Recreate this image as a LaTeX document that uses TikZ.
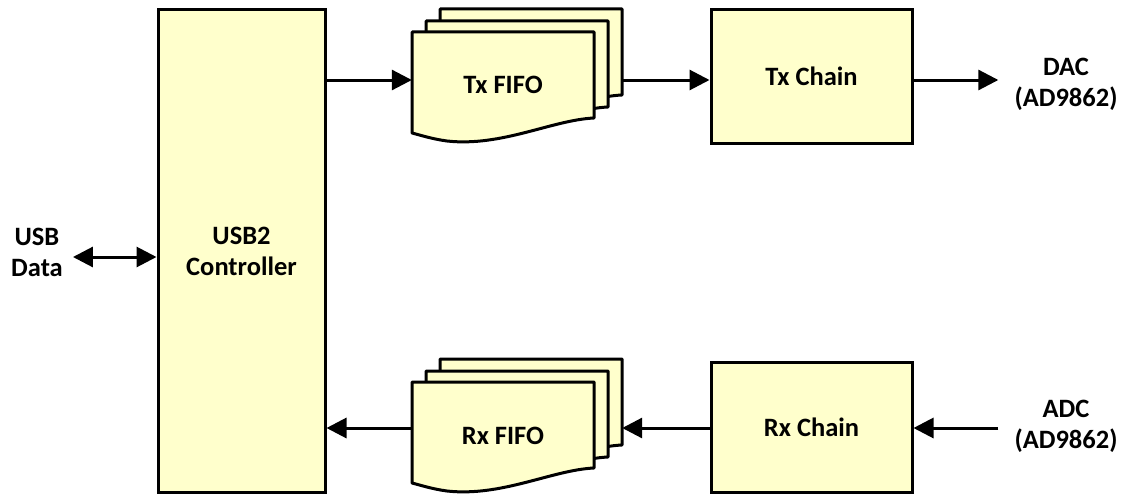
\documentclass[tikz,border=0pt]{standalone}
\usepackage{fontspec}
\setmainfont{Carlito}
\usetikzlibrary{arrows.meta,calc}
\definecolor{boxfill}{RGB}{255,255,204}
\begin{document}
\begin{tikzpicture}[x=1pt,y=-1pt,
  txt/.style={font=\bfseries\fontsize{26.5}{31}\selectfont, align=center},
  blk/.style={txt, draw=black, line width=3pt, fill=boxfill, inner sep=0pt},
  ghost/.style={txt, draw=none, inner sep=0pt},
  lbl/.style={txt, inner sep=0pt},
  conn/.style={line width=3pt, -{Triangle[length=20pt,width=20pt]}},
  dconn/.style={line width=3pt, {Triangle[length=20pt,width=20pt]}-{Triangle[length=20pt,width=20pt]}},
  docpage/.style={draw=black, line width=3pt, fill=boxfill, line join=round},
  fifostack/.pic={
    \foreach \dx/\dy in {28/-23,14/-11,0/0}{
      \draw[docpage] (\dx,\dy) -- ++(182,0) -- ++(0,86)
        .. controls ++(-42,2) and ++(55,6) .. ++(-147,23)
        .. controls ++(-15,-2) and ++(8,2) .. ++(-35,-8) -- cycle;
    }
  }]
\useasboundingbox (0,0) rectangle (1123,495);

% main blocks
\node[blk, minimum width=167pt, minimum height=482pt] (ctrl) at (241.5,251) {USB2\\Controller};
\node[blk, minimum width=201pt, minimum height=133pt] (txchain) at (811.5,76.5) {Tx Chain};
\node[blk, minimum width=201pt, minimum height=130pt] (rxchain) at (811.5,427) {Rx Chain};

% FIFO stacks
\pic at (412,32) {fifostack};
\pic at (412,382) {fifostack};
\node[ghost, minimum width=182pt, minimum height=106pt] (txfifo) at (503,85) {Tx FIFO};
\node[ghost, minimum width=182pt, minimum height=106pt] (rxfifo) at (503,436) {Rx FIFO};
\node[draw=none, minimum width=210pt, minimum height=20pt, inner sep=0pt] (txstack) at (517,80) {};
\node[draw=none, minimum width=210pt, minimum height=20pt, inner sep=0pt] (rxstack) at (517,428) {};

% external labels
\node[lbl] (usb) at (37,252) {USB\\Data};
\node[lbl] (dac) at (1066,84) {DAC\\(AD9862)};
\node[lbl] (adc) at (1066,426) {ADC\\(AD9862)};

% level coordinates
\coordinate (ty) at (0,80);
\coordinate (ry) at (0,428);
\coordinate (uy) at (0,257);

% connectors
\draw[conn] (ctrl.east |- ty) -- (txfifo.west |- ty);
\draw[conn] (txstack.east |- ty) -- (txchain.west |- ty);
\draw[conn] (txchain.east |- ty) -- ([xshift=-16pt]dac.west |- ty);
\draw[conn] ([xshift=-16pt]adc.west |- ry) -- (rxchain.east |- ry);
\draw[conn] (rxchain.west |- ry) -- (rxstack.east |- ry);
\draw[conn] (rxfifo.west |- ry) -- (ctrl.east |- ry);
\draw[dconn] ([xshift=10pt]usb.east |- uy) -- (ctrl.west |- uy);
\end{tikzpicture}
\end{document}
